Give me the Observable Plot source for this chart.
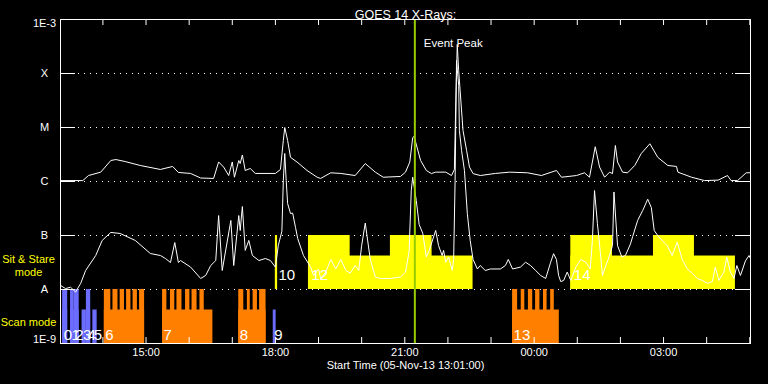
<!DOCTYPE html>
<html><head><meta charset="utf-8">
<script src="https://cdn.jsdelivr.net/npm/d3@7"></script>
<script src="https://cdn.jsdelivr.net/npm/@observablehq/plot@0.6"></script>
<style>html,body{margin:0;padding:0;background:#000;}svg{display:block}</style>
</head><body><div id="chart"></div>
<script>
// ---- data (times UTC; before 13:00 = 06-Nov-13, otherwise 05-Nov-13) ----
const timeStart = "13:01";
const timeEnd = "05:01";
const eventStart = "21:14";

const yLevels = [1e-3, 1e-4, 1e-5, 1e-6, 1e-7, 1e-8, 1e-9];
const yLabels = ["1E-3", "X", "M", "C", "B", "A", "1E-9"];
const timeLabels = ["15:00", "18:00", "21:00", "00:00", "03:00"];

// GOES 14 long channel (1-8 A), W/m^2
const longChannel = [
["13:01",1.04e-6],["13:32",1.04e-6],["13:40",1.29e-6],["13:57",1.49e-6],["14:11",2.45e-6],["14:18",2.55e-6],
["14:31",2.34e-6],["14:52",1.98e-6],["15:20",1.67e-6],["15:37",1.90e-6],["15:45",1.47e-6],["16:02",1.41e-6],
["16:16",1.16e-6],["16:34",1.14e-6],["16:41",2.3e-6],["16:48",1.85e-6],["16:55",1.29e-6],["17:00",2.3e-6],
["17:03",1.2e-6],["17:09",2.45e-6],["17:11",2.15e-6],["17:14",3.1e-6],["17:18",1.6e-6],["17:25",1.74e-6],
["17:32",1.41e-6],["18:00",1.41e-6],["18:07",1.67e-6],["18:11",5.75e-6],["18:13",1.0e-5],["18:17",5.75e-6],
["18:21",2.8e-6],["18:30",2.3e-6],["18:44",1.6e-6],["18:58",1.2e-6],["19:03",1.14e-6],["19:17",1.45e-6],
["19:31",1.41e-6],["19:51",1.29e-6],["20:05",2.15e-6],["20:19",1.49e-6],["20:30",1.2e-6],["20:54",1.24e-6],
["21:01",1.49e-6],["21:07",2.3e-6],["21:11",6.5e-6],["21:13",6.8e-6],["21:22",2.45e-6],["21:30",1.6e-6],
["21:37",1.4e-6],["21:43",1.49e-6],["21:57",1.49e-6],["22:05",1.29e-6],["22:09",1.67e-6],["22:11",3.16e-5],
["22:13",3.44e-4],["22:15",1.14e-4],["22:21",8.8e-6],["22:26",3.75e-6],["22:30",1.85e-6],["22:35",1.4e-6],
["22:45",1.29e-6],["23:06",1.41e-6],["23:26",1.49e-6],["23:51",1.45e-6],["00:10",1.29e-6],["00:31",1.6e-6],
["00:38",1.2e-6],["00:59",1.29e-6],["01:10",1.45e-6],["01:17",1.2e-6],["01:25",4.4e-6],["01:31",1.85e-6],
["01:38",1.2e-6],["01:45",1.49e-6],["01:49",1.4e-6],["01:53",4.64e-6],["01:56",2.3e-6],["02:03",1.49e-6],
["02:10",1.45e-6],["02:20",1.98e-6],["02:29",3.3e-6],["02:41",5.0e-6],["02:52",2.8e-6],["03:06",1.98e-6],
["03:18",1.9e-6],["03:20",1.49e-6],["03:39",1.2e-6],["03:57",1.04e-6],["04:16",1.06e-6],["04:29",1.29e-6],
["04:34",1.04e-6],["04:43",1.04e-6],["04:55",1.45e-6],["05:01",1.45e-6]
];

// GOES 14 short channel (0.5-4 A), W/m^2
const shortChannel = [
["13:01",1.19e-8],["13:08",1.04e-8],["13:15",1.1e-8],["13:22",9e-9],["13:29",1.29e-8],["13:36",2.25e-8],
["13:50",4.26e-8],["13:59",8.1e-8],["14:11",1.14e-7],["14:24",1.09e-7],["14:45",8.1e-8],["15:06",4.64e-8],
["15:20",4.26e-8],["15:27",3.75e-8],["15:34",3.16e-8],["15:40",7.4e-8],["15:45",3.16e-8],["15:48",3.44e-8],
["16:02",2.6e-8],["16:16",1.6e-8],["16:23",1.82e-8],["16:30",2.78e-8],["16:37",3.44e-8],["16:41",2.34e-7],
["16:46",2.25e-8],["16:58",1.9e-7],["17:02",2.78e-8],["17:09",2.34e-7],["17:11",1.24e-7],["17:14",3.44e-7],
["17:18",5.3e-8],["17:23",8.1e-8],["17:28",4.26e-8],["17:37",3.44e-8],["17:46",3.75e-8],["17:53",3.44e-8],
["18:00",2.6e-8],["18:04",6.5e-8],["18:09",1.2e-7],["18:11",1.04e-6],["18:13",3.3e-6],["18:15",1.04e-6],
["18:17",3.9e-7],["18:21",2.55e-7],["18:24",2.6e-7],["18:28",1.41e-7],["18:31",8.8e-8],["18:39",4.26e-8],
["18:49",2.6e-8],["18:53",1.82e-8],["19:00",2.4e-8],["19:03",1.6e-8],["19:10",2.1e-8],["19:17",3.6e-8],
["19:24",2.4e-8],["19:31",3.6e-8],["19:38",2.25e-8],["19:44",2.0e-8],["19:51",2.78e-8],["19:56",2.25e-8],
["20:00",6.5e-8],["20:05",1.7e-7],["20:12",3.6e-8],["20:19",1.7e-8],["20:26",1.6e-8],["20:40",1.6e-8],
["20:54",1.7e-8],["21:01",2.1e-8],["21:06",5.0e-8],["21:09",6.8e-7],["21:11",1.2e-6],["21:16",4.45e-7],
["21:20",1.6e-7],["21:25",1.1e-7],["21:30",4.0e-8],["21:34",5.3e-8],["21:43",1.24e-7],["21:47",6.5e-8],
["21:52",4.26e-8],["21:54",5.3e-8],["21:57",3.2e-8],["22:01",4.0e-8],["22:06",2.25e-8],["22:08",3.6e-8],
["22:10",1.04e-6],["22:12",1.74e-4],["22:15",6.0e-5],["22:16",8.8e-6],["22:19",3.75e-6],["22:23",1.6e-6],
["22:27",2.55e-7],["22:31",8.1e-8],["22:35",3.6e-8],["22:41",2.4e-8],["22:45",2.78e-8],["22:52",2.25e-8],
["22:59",2.4e-8],["23:13",2.4e-8],["23:20",2.78e-8],["23:24",3.6e-8],["23:30",2.4e-8],["23:41",2.6e-8],
["23:48",3.2e-8],["23:55",2.78e-8],["00:02",2.25e-8],["00:09",1.82e-8],["00:16",1.6e-8],["00:23",3.2e-8],
["00:27",4.6e-8],["00:31",3.6e-8],["00:34",1.82e-8],["00:37",1.4e-8],["00:41",1.47e-8],["00:46",2.1e-8],
["00:51",1.47e-8],["00:58",2.6e-8],["01:05",3.6e-8],["01:12",3.2e-8],["01:18",2.4e-8],["01:21",8.1e-8],
["01:24",6.8e-7],["01:28",1.67e-7],["01:32",5.0e-8],["01:35",1.82e-8],["01:39",2.6e-8],["01:43",3.6e-8],
["01:49",6.5e-8],["01:51",6.4e-7],["01:56",6.5e-8],["02:02",4.0e-8],["02:07",4.26e-8],["02:14",7.0e-8],
["02:17",9.5e-8],["02:24",1.9e-7],["02:31",2.9e-7],["02:38",4.7e-7],["02:43",3.3e-7],["02:47",1.24e-7],
["02:53",9.5e-8],["03:05",6.5e-8],["03:12",4.26e-8],["03:19",7.5e-8],["03:26",3.6e-8],["03:33",2.4e-8],
["03:40",2.0e-8],["03:47",1.6e-8],["03:54",1.47e-8],["04:01",1.3e-8],["04:08",1.4e-8],["04:12",2.6e-8],
["04:17",1.47e-8],["04:24",2.1e-8],["04:28",4.0e-8],["04:33",2.1e-8],["04:38",1.6e-8],["04:42",2.78e-8],
["04:47",1.82e-8],["04:54",3.4e-8],["04:59",4.26e-8],["05:01",3.75e-8]
];

// observations: number, start, end, mode, colour kind
const obsNumber = [0,1,2,3,4,5,6,7,8,9,10,12,13,14];
const obsStart  = ["13:04","13:15","13:20","13:31","13:37","13:46","14:02","15:23","17:09","17:57","18:00","18:46","23:30","00:51"];
const obsEnd    = ["13:11","13:20","13:27","13:37","13:43","13:52","14:58","16:33","17:47","18:01","18:03","22:35","00:35","04:40"];
const obsMode   = ["scan","scan","scan","scan","scan","scan","scan","scan","scan","scan","sit","sit","scan","sit"];
const obsKind   = ["blue","blue","blue","blue","blue","blue","orange","orange","orange","blue","yellow","yellow","orange","yellow"];

// full-height segments (rasters) belonging to observations (by observation number)
const rasterObs   = [0,1,2,4, 6,6,6,6,6,6, 7,7,7,7,7,7, 8,8,8,8, 10, 12,12, 13,13,13,13,13,13, 14,14];
const rasterStart = ["13:04","13:15","13:20","13:37",
  "14:02","14:14","14:24","14:33","14:42","14:51",
  "15:23","15:34","15:43","15:55","16:04","16:15",
  "17:09","17:21","17:29","17:38",
  "18:00",
  "18:46","20:40",
  "23:30","23:42","23:52","00:02","00:13","00:23",
  "00:51","02:46"];
const rasterEnd   = ["13:11","13:20","13:27","13:43",
  "14:11","14:21","14:30","14:39","14:48","14:58",
  "15:29","15:40","15:50","16:01","16:11","16:21",
  "17:16","17:25","17:35","17:47",
  "18:03",
  "19:44","21:38",
  "23:37","23:47","23:58","00:08","00:18","00:28",
  "01:49","03:43"];

// ---- helpers ----
function toDate(hhmm) {
  const [h, m] = hhmm.split(":").map(Number);
  return new Date(Date.UTC(2013, 10, h < 13 ? 6 : 5, h, m));
}
const colors = {blue: "#6c6cff", orange: "#ff8000", yellow: "#ffff00"};
const bands = {scan: [1e-9, 1e-8], sit: [1e-8, 1e-7]};
const halfFrac = 0.62;
const halfTop = mode => bands[mode][0] * Math.pow(10, halfFrac);

const longData = longChannel.map(([t, v]) => ({t: toDate(t), v}));
const shortData = shortChannel.map(([t, v]) => ({t: toDate(t), v}));
const obs = obsNumber.map((n, i) => ({
  n, start: toDate(obsStart[i]), end: toDate(obsEnd[i]), mode: obsMode[i], kind: obsKind[i]
}));
const obsByNum = new Map(obs.map(o => [o.n, o]));
const rasters = rasterObs.map((n, i) => ({
  start: toDate(rasterStart[i]), end: toDate(rasterEnd[i]), mode: obsByNum.get(n).mode, kind: obsByNum.get(n).kind
}));

const W = 768, H = 384, mL = 60, mR = 18, mT = 19, mB = 41;
const innerW = W - mL - mR, innerH = H - mT - mB;
const t0 = toDate(timeStart), t1 = toDate(timeEnd);
const hourTicks = d3.utcHour.range(t0, t1);
const gridLevels = yLevels.slice(1, -1);
const peak = longData[d3.maxIndex(longData, d => d.v)];
const white = "white";

const chart = Plot.plot({
  width: W, height: H,
  marginLeft: mL, marginRight: mR, marginTop: mT, marginBottom: mB,
  style: {background: "black", color: white, fontFamily: "'Liberation Sans', Arial, sans-serif", fontSize: "11px"},
  x: {type: "utc", domain: [t0, t1], axis: null},
  y: {type: "log", domain: [1e-9, 1e-3], axis: null},
  color: {type: "identity"},
  marks: [
    // dotted grid at flare levels
    Plot.ruleY(gridLevels, {y: d => d, stroke: white, strokeDasharray: "1,5", insetLeft: 18, insetRight: 16}),
    // observation half-height bars
    Plot.rect(obs, {x1: "start", x2: "end", y1: d => bands[d.mode][0], y2: d => halfTop(d.mode), fill: d => colors[d.kind]}),
    // full-height rasters
    Plot.rect(rasters, {x1: "start", x2: "end", y1: d => bands[d.mode][0], y2: d => bands[d.mode][1], fill: d => colors[d.kind]}),
    // observation numbers
    Plot.text(obs.filter(o => o.mode === "scan"), {x: "start", y: d => bands[d.mode][0], text: d => String(d.n),
      textAnchor: "start", lineAnchor: "bottom", dx: 1, dy: -4, fill: white, fontSize: 15}),
    Plot.text(obs.filter(o => o.mode === "sit"), {x: "start", y: d => bands[d.mode][0], text: d => String(d.n),
      textAnchor: "start", lineAnchor: "bottom", dx: 3, dy: -10, fill: white, fontSize: 15}),
    // GOES curves
    Plot.line(longData, {x: "t", y: "v", stroke: white, strokeWidth: 1}),
    Plot.line(shortData, {x: "t", y: "v", stroke: white, strokeWidth: 1}),
    // event start line
    Plot.ruleX([toDate(eventStart)], {x: d => d, stroke: "#99cc00", strokeWidth: 2}),
    // event peak label
    Plot.text([peak], {x: "t", y: "v", text: () => "Event Peak", dx: -4, dy: -1, fill: white, fontSize: 11.5}),
    // inner ticks
    Plot.ruleY(gridLevels, {y: d => d, stroke: white, insetRight: innerW - 15}),
    Plot.ruleY(gridLevels, {y: d => d, stroke: white, insetLeft: innerW - 15}),
    Plot.ruleX(hourTicks, {x: d => d, stroke: white, insetBottom: innerH - 6}),
    Plot.ruleX(hourTicks, {x: d => d, stroke: white, insetTop: innerH - 6}),
    // y labels
    Plot.text(yLevels.slice(1, -1), {y: d => d, text: (d, i) => yLabels[i + 1], frameAnchor: "left", dx: -16, textAnchor: "middle", fill: white}),
    Plot.text([yLevels[0]], {y: d => d, text: () => yLabels[0], frameAnchor: "left", dx: -16, dy: 4, textAnchor: "middle", fill: white}),
    Plot.text([yLevels[6]], {y: d => d, text: () => yLabels[6], frameAnchor: "left", dx: -16, dy: -4, textAnchor: "middle", fill: white}),
    // mode labels
    Plot.text(["Sit & Stare\nmode"], {y: () => Math.sqrt(bands.sit[0] * bands.sit[1]), text: d => d, frameAnchor: "left", dx: -32, dy: 2.5,
      textAnchor: "middle", lineHeight: 1.18, fill: "#ffff00"}),
    Plot.text(["Scan mode"], {y: () => Math.sqrt(bands.scan[0] * bands.scan[1]), text: d => d, frameAnchor: "left", dx: -32, dy: 6,
      textAnchor: "middle", fill: "#ffff00"}),
    // x labels
    Plot.text(timeLabels, {x: d => toDate(d), text: d => d, frameAnchor: "bottom", dy: 12, fill: white}),
    Plot.text(["Start Time (05-Nov-13 13:01:00)"], {text: d => d, frameAnchor: "bottom", dy: 25, fill: white}),
    // title
    Plot.text(["GOES 14 X-Rays:"], {text: d => d, frameAnchor: "top", dy: -9.5, fill: white, fontSize: 12.5}),
    Plot.frame({stroke: white})
  ]
});
document.getElementById("chart").appendChild(chart);
</script>
</body></html>
